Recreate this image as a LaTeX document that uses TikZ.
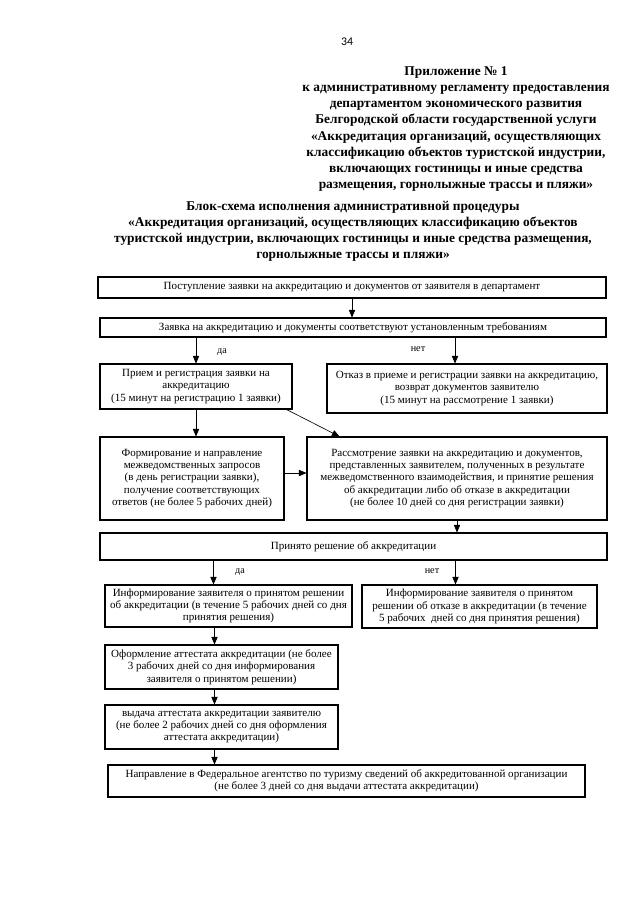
\documentclass[tikz,border=0pt]{standalone}
\usepackage{fontspec}
\setmainfont{Liberation Serif}
\newfontfamily\numfont{Carlito}
\usepackage{tikz}
\usetikzlibrary{shapes,arrows}
\def\pxu{0.32818mm}

\begin{document}
\begin{tikzpicture}[x=\pxu,y=-\pxu,
                   blk/.style 2 args={draw,line width=1pt,inner sep=0pt,align=center,
                   minimum width=#1*\pxu,minimum height=#2*\pxu,font=\fontsize{10.3}{11.5}\selectfont},
                   arr/.style={-triangle 45,line width=0.6pt}, lbl/.style={font=\fontsize{9.5}{11}\selectfont}]
\useasboundingbox (0,0) rectangle (640,905);
\node[font=\numfont\fontsize{11}{13}\selectfont] (pnum) at (347,42) {34};
\node[align=center,font=\bfseries\fontsize{12.5}{15}\selectfont] (appx) at (456,129) {Приложение № 1\\
к административному регламенту предоставления\\департаментом экономического развития\\
Белгородской области государственной услуги\\«Аккредитация организаций, осуществляющих\\
классификацию объектов туристской индустрии,\\включающих гостиницы и иные средства\\
размещения, горнолыжные трассы и пляжи»};
\node[align=center,font=\bfseries\fontsize{12.5}{15}\selectfont] (ttl) at (353,231) {Блок-схема исполнения административной процедуры\\
«Аккредитация организаций, осуществляющих классификацию объектов\\
туристской индустрии, включающих гостиницы и иные средства размещения,\\горнолыжные трассы и пляжи»};

\node[blk={508}{21}] (b1) at (352,287.5) {Поступление заявки на аккредитацию и документов от заявителя в департамент};
\node[blk={506}{19}] (b2) at (353,327.5) {Заявка на аккредитацию и документы соответствуют установленным требованиям};
\node[blk={192}{45}] (b3) at (196,386.5) {Прием и регистрация заявки на\\аккредитацию\\(15 минут на регистрацию 1 заявки)};
\node[blk={280}{49}] (b4) at (467,388.5) {Отказ в приеме и регистрации заявки на аккредитацию,\\возврат документов заявителю\\(15 минут на рассмотрение 1 заявки)};
\node[blk={184}{83}] (b5) at (192,478.5) {Формирование и направление\\межведомственных запросов\\(в день регистрации заявки),\\получение соответствующих\\ответов (не более 5 рабочих дней)};
\node[blk={300}{83}] (b6) at (457,478.5) {Рассмотрение заявки на аккредитацию и документов,\\представленных заявителем, полученных в результате\\межведомственного взаимодействия, и принятие решения\\об аккредитации либо об отказе в аккредитации\\(не более 10 дней со дня регистрации заявки)};
\node[blk={507}{27}] (b7) at (353.5,546.5) {Принято решение об аккредитации};
\node[blk={247}{42}] (b8) at (228.5,606) {Информирование заявителя о принятом решении\\об аккредитации (в течение 5 рабочих дней со дня\\принятия решения)};
\node[blk={235}{43}] (b9) at (479.5,606.5) {Информирование заявителя о принятом\\решении об отказе в аккредитации (в течение\\5 рабочих \ дней со дня принятия решения)};
\node[blk={233}{44}] (b10) at (221.5,667) {Оформление аттестата аккредитации (не более\\3 рабочих дней со дня информирования\\заявителя о принятом решении)};
\node[blk={233}{44}] (b11) at (221.5,727) {выдача аттестата аккредитации заявителю\\(не более 2 рабочих дней со дня оформления\\аттестата аккредитации)};
\node[blk={477}{32}] (b12) at (346.5,781) {Направление в Федеральное агентство по туризму сведений об аккредитованной организации\\(не более 3 дней со дня выдачи аттестата аккредитации)};

\node[lbl] (yes1) at (222,352) {да};
\node[lbl] (no1) at (418,349) {нет};
\node[lbl] (yes2) at (240,572) {да};
\node[lbl] (no2) at (432,571) {нет};

\draw[arr] (b1.south) -- (b1.south|-b2.north);
\draw[arr] (b3.north|-b2.south) -- (b3.north);
\draw[arr] ([xshift=-12*\pxu]b4.north|-b2.south) -- ([xshift=-12*\pxu]b4.north);
\draw[arr] (b3.south) -- (b3.south|-b5.north);
\draw[arr] ([xshift=-6*\pxu]b3.south east) -- ([xshift=33*\pxu]b6.north west);
\draw[arr] ([yshift=5.5*\pxu]b5.east) -- ([yshift=5.5*\pxu]b6.west);
\draw[arr] (b6.south) -- (b6.south|-b7.north);
\draw[arr] ([xshift=-15*\pxu]b8.north|-b7.south) -- ([xshift=-15*\pxu]b8.north);
\draw[arr] ([xshift=-24*\pxu]b9.north|-b7.south) -- ([xshift=-24*\pxu]b9.north);
\draw[arr] ([xshift=-7*\pxu]b10.north|-b8.south) -- ([xshift=-7*\pxu]b10.north);
\draw[arr] ([xshift=-7*\pxu]b10.south) -- ([xshift=-7*\pxu]b11.north);
\draw[arr] ([xshift=-7*\pxu]b11.south) -- ([xshift=-7*\pxu]b11.south|-b12.north);
\end{tikzpicture}
\end{document}
